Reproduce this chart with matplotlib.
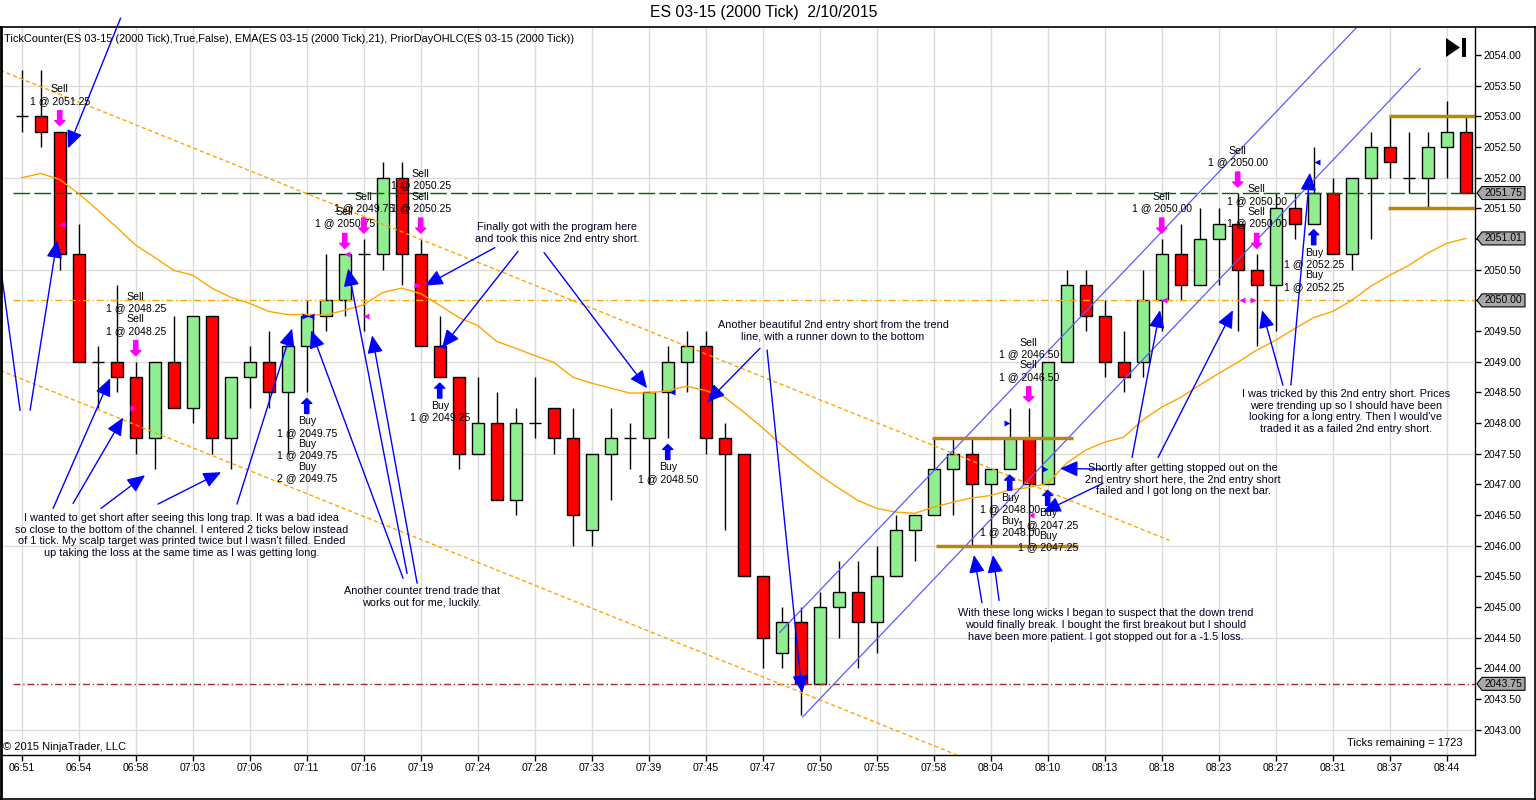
import matplotlib
matplotlib.use("Agg")
import matplotlib.pyplot as plt
import numpy as np
from matplotlib import transforms
from matplotlib.patches import Polygon, Rectangle

plt.rcParams['font.family'] = ['Liberation Sans', 'DejaVu Sans']

# --- bar data (2000 tick bars) ---
opens = [2053.00, 2053.00, 2052.75, 2050.75, 2049.00, 2049.00, 2048.75, 2047.75, 2049.00, 2048.25,
         2049.75, 2047.75, 2048.75, 2049.00, 2048.50, 2049.25, 2049.75, 2050.00, 2050.75, 2050.75,
         2052.00, 2050.75, 2049.25, 2048.75, 2047.50, 2048.00, 2046.75, 2048.00, 2048.25, 2047.75,
         2046.25, 2047.50, 2047.75, 2047.75, 2048.50, 2049.00, 2049.25, 2047.75, 2047.50, 2045.50,
         2044.25, 2044.75, 2043.75, 2045.00, 2045.25, 2044.75, 2045.50, 2046.25, 2046.50, 2047.25,
         2047.50, 2047.00, 2047.25, 2047.75, 2047.00, 2049.00, 2050.25, 2049.75, 2049.00, 2049.00,
         2050.00, 2050.75, 2050.25, 2051.00, 2051.25, 2050.50, 2050.25, 2051.50, 2051.25, 2051.75,
         2050.75, 2052.00, 2052.50, 2052.00, 2052.00, 2052.50, 2052.75]
highs = [2053.75, 2053.75, 2052.75, 2051.25, 2049.25, 2050.25, 2049.00, 2049.00, 2049.75, 2049.75,
         2049.75, 2048.75, 2049.25, 2049.50, 2049.25, 2050.00, 2050.75, 2050.75, 2051.00, 2052.25,
         2052.25, 2051.00, 2049.75, 2048.75, 2048.75, 2048.50, 2048.25, 2048.75, 2048.25, 2048.25,
         2047.50, 2048.25, 2048.00, 2048.50, 2049.25, 2049.50, 2049.50, 2048.00, 2047.50, 2045.50,
         2045.00, 2045.00, 2045.25, 2045.75, 2045.75, 2046.00, 2046.50, 2046.50, 2047.75, 2047.75,
         2047.75, 2047.25, 2048.25, 2048.25, 2049.00, 2050.50, 2050.50, 2050.00, 2049.50, 2050.50,
         2051.00, 2051.25, 2051.50, 2051.50, 2051.75, 2050.75, 2051.75, 2051.75, 2052.50, 2052.00,
         2052.00, 2052.75, 2053.00, 2052.75, 2052.75, 2053.25, 2053.00]
lows = [2052.75, 2052.50, 2050.50, 2049.00, 2048.25, 2048.50, 2047.50, 2047.25, 2048.25, 2048.00,
        2047.50, 2047.25, 2048.25, 2048.25, 2047.50, 2048.50, 2049.50, 2049.75, 2049.50, 2050.50,
        2050.25, 2049.25, 2048.75, 2047.25, 2047.50, 2046.75, 2046.50, 2047.75, 2047.50, 2046.00,
        2046.00, 2046.75, 2047.25, 2047.00, 2047.75, 2048.50, 2047.50, 2046.25, 2045.50, 2044.00,
        2044.00, 2043.25, 2043.75, 2044.50, 2044.00, 2044.25, 2045.50, 2045.75, 2046.50, 2046.50,
        2046.00, 2046.00, 2047.25, 2046.00, 2047.00, 2049.00, 2049.50, 2048.75, 2048.50, 2048.75,
        2049.50, 2050.00, 2050.25, 2050.25, 2049.50, 2049.25, 2049.50, 2051.00, 2051.25, 2050.75,
        2050.50, 2051.00, 2052.00, 2051.75, 2051.50, 2052.00, 2051.75]
closes = [2053.00, 2052.75, 2050.75, 2049.00, 2049.00, 2048.75, 2047.75, 2049.00, 2048.25, 2049.75,
          2047.75, 2048.75, 2049.00, 2048.50, 2049.25, 2049.75, 2050.00, 2050.75, 2050.75, 2052.00,
          2050.75, 2049.25, 2048.75, 2047.50, 2048.00, 2046.75, 2048.00, 2048.00, 2047.75, 2046.50,
          2047.50, 2047.75, 2047.75, 2048.50, 2049.00, 2049.25, 2047.75, 2047.50, 2045.50, 2044.50,
          2044.75, 2043.75, 2045.00, 2045.25, 2044.75, 2045.50, 2046.25, 2046.50, 2047.25, 2047.50,
          2047.00, 2047.25, 2047.75, 2047.00, 2049.00, 2050.25, 2049.75, 2049.00, 2048.75, 2050.00,
          2050.75, 2050.25, 2051.00, 2051.25, 2050.50, 2050.25, 2051.50, 2051.25, 2051.75, 2050.75,
          2052.00, 2052.50, 2052.25, 2052.00, 2052.50, 2052.75, 2051.75]
ema21 = [2052.00, 2052.07, 2051.97, 2051.74, 2051.47, 2051.19, 2050.90, 2050.70, 2050.49, 2050.41,
         2050.20, 2050.05, 2049.95, 2049.82, 2049.77, 2049.77, 2049.76, 2049.84, 2049.93, 2050.13,
         2050.20, 2050.11, 2049.92, 2049.72, 2049.59, 2049.33, 2049.22, 2049.10, 2048.99, 2048.75,
         2048.65, 2048.57, 2048.49, 2048.49, 2048.53, 2048.60, 2048.53, 2048.42, 2048.18, 2047.92,
         2047.64, 2047.39, 2047.15, 2046.94, 2046.74, 2046.61, 2046.55, 2046.53, 2046.63, 2046.71,
         2046.78, 2046.82, 2046.91, 2046.95, 2047.02, 2047.35, 2047.56, 2047.69, 2047.77, 2048.05,
         2048.26, 2048.42, 2048.62, 2048.81, 2048.99, 2049.19, 2049.35, 2049.54, 2049.72, 2049.82,
         2050.00, 2050.23, 2050.41, 2050.57, 2050.77, 2050.93, 2051.01]
time_labels = ['06:51', '06:54', '06:58', '07:03', '07:06', '07:11', '07:16', '07:19', '07:24',
               '07:28', '07:33', '07:39', '07:45', '07:47', '07:50', '07:55', '07:58', '08:04',
               '08:10', '08:13', '08:18', '08:23', '08:27', '08:31', '08:37', '08:44']

# prior day levels and last price
last_price = 2051.75
prior_close = 2050.00
prior_low = 2043.75
ema_last = 2051.01

# executions
sell_bars = [2, 6, 17, 18, 21, 53, 60, 64, 65]
sell_texts = [['Sell', '1 @ 2051.25'],
              ['Sell', '1 @ 2048.25', 'Sell', '1 @ 2048.25'],
              ['Sell', '1 @ 2050.75'],
              ['Sell', '1 @ 2049.75'],
              ['Sell', '1 @ 2050.25', 'Sell', '1 @ 2050.25'],
              ['Sell', '1 @ 2046.50', 'Sell', '1 @ 2046.50'],
              ['Sell', '1 @ 2050.00'],
              ['Sell', '1 @ 2050.00'],
              ['Sell', '1 @ 2050.00', 'Sell', '1 @ 2050.00']]
buy_bars = [15, 22, 34, 52, 54, 68]
buy_texts = [['Buy', '1 @ 2049.75', 'Buy', '1 @ 2049.75', 'Buy', '2 @ 2049.75'],
             ['Buy', '1 @ 2049.25'],
             ['Buy', '1 @ 2048.50'],
             ['Buy', '1 @ 2048.00', 'Buy', '1 @ 2048.00'],
             ['Buy', '1 @ 2047.25', 'Buy', '1 @ 2047.25'],
             ['Buy', '1 @ 2052.25', 'Buy', '1 @ 2052.25']]
fill_bars = [2.1, 5.85, 17.1, 18.1, 20.8, 14.9, 15.2, 22.1, 34.2, 51.85, 53.1, 53.85, 60.1, 64.2, 64.8, 68.15]
fill_prices = [2051.25, 2048.25, 2050.75, 2049.75, 2050.25, 2049.75, 2049.75, 2049.25, 2048.50,
               2048.00, 2046.50, 2047.25, 2050.00, 2050.00, 2050.00, 2052.25]
fill_sides = ['S', 'S', 'S', 'S', 'S', 'B', 'B', 'B', 'B', 'B', 'S', 'B', 'S', 'S', 'S', 'B']
fill_marks = ['<', '>', '<', '<', '>', '>', '<', '<', '<', '>', '<', '>', '<', '<', '>', '<']

# drawn trend channels (bar, price)
down_upper = [(-1.14, 2053.75), (60.4, 2046.09)]
down_lower = [(-1.14, 2048.86), (53.0, 2042.12)]
up_upper = [(39.9, 2044.59), (70.6, 2054.56)]
up_lower = [(41.1, 2043.21), (73.6, 2053.78)]
range_lines = [((47.9, 55.33), 2047.75), ((48.12, 55.6), 2046.00),
               ((71.96, 76.6), 2053.00), ((71.9, 76.6), 2051.50)]

# notes and their arrows (bar, price)
notes = [
    (8.4, 2046.17, "I wanted to get short after seeing this long trap. It was a bad idea\n"
                   "so close to the bottom of the channel. I entered 2 ticks below instead\n"
                   "of 1 tick. My scalp target was printed twice but I wasn't filled. Ended\n"
                   "up taking the loss at the same time as I was getting long."),
    (21.07, 2045.17, "Another counter trend trade that\nworks out for me, luckily."),
    (28.17, 2051.10, "Finally got with the program here\nand took this nice 2nd entry short."),
    (42.7, 2049.51, "Another beautiful 2nd entry short from the trend\nline, with a runner down to the bottom"),
    (61.12, 2047.08, "Shortly after getting stopped out on the\n2nd entry short here, the 2nd entry short\n"
                     "failed and I got long on the next bar."),
    (57.07, 2044.71, "With these long wicks I began to suspect that the down trend\n"
                     "would finally break. I bought the first breakout but I should\n"
                     "have been more patient. I got stopped out for a -1.5 loss."),
    (69.7, 2048.19, "I was tricked by this 2nd entry short. Prices\nwere trending up so I should have been\n"
                    "looking for a long entry. Then I would've\ntraded it as a failed 2nd entry short."),
]
arrow_tails = [(1.65, 2046.61), (2.70, 2046.69), (4.17, 2046.61), (7.17, 2046.68), (11.33, 2046.68),
               (20.07, 2045.47), (20.28, 2045.55), (20.81, 2045.39),
               (0.44, 2048.21), (5.2, 2054.6),
               (24.9, 2050.86), (26.12, 2050.80), (27.49, 2050.78),
               (38.86, 2049.22), (39.23, 2049.19),
               (56.91, 2047.25), (56.91, 2047.02), (58.44, 2047.44), (59.81, 2047.44),
               (50.54, 2045.07), (51.44, 2045.11),
               (66.38, 2048.62), (66.8, 2048.62)]
arrow_tips = [(4.65, 2048.73), (5.33, 2048.09), (6.49, 2047.15), (10.49, 2047.20), (14.23, 2049.54),
              (15.23, 2049.51), (17.18, 2050.52), (18.44, 2049.43),
              (1.86, 2050.98), (2.44, 2052.48),
              (21.23, 2050.24), (22.12, 2049.23), (32.91, 2048.57),
              (36.07, 2048.34), (41.07, 2043.60),
              (54.65, 2047.26), (53.75, 2046.55), (59.91, 2049.84), (63.75, 2049.84),
              (50.12, 2045.85), (51.12, 2045.85),
              (65.28, 2049.84), (67.8, 2052.08)]
plain_line = [(-1.14, 2050.60), (-0.09, 2048.21)]

W, H = 1536, 800
fig = plt.figure(figsize=(W / 100, H / 100), dpi=100)
ax = fig.add_axes([2 / W, 45 / H, 1473 / W, 727 / H])
ax.set_xlim(-1.04, 76.49)
ax.set_ylim(2042.59, 2054.44)

n = len(opens)
x = np.arange(n)
o = np.array(opens)
c = np.array(closes)

# grid
for gx in range(0, 76, 3):
    ax.axvline(gx, color='#dcdcdc', lw=1, zorder=0)
for gy in np.arange(2043.0, 2054.5, 1.5):
    ax.axhline(gy, color='#dcdcdc', lw=1, zorder=0)

# candles
ax.vlines(x, lows, highs, color='black', lw=1, zorder=3)
body_colors = ['#90ee90' if cc > oo else '#ff0000' for oo, cc in zip(o, c)]
ax.bar(x, np.abs(c - o), bottom=np.minimum(o, c), width=0.65, color=body_colors,
       edgecolor='black', linewidth=1, zorder=4)

# price level lines
x0 = -0.46
ax.plot([x0, 76.49], [last_price] * 2, color='#006400', lw=1, dashes=(12, 3), zorder=5)
ax.plot([x0, 76.49], [prior_close] * 2, color='#ffa500', lw=1, dashes=(5, 2, 1, 2), zorder=5)
ax.plot([x0, 76.49], [prior_low] * 2, color='#a52a2a', lw=1, dashes=(5, 2, 1, 2), zorder=5)

# EMA
ax.plot(x, ema21, color='#ffa500', lw=1, zorder=6)

# channels
for seg in (down_upper, down_lower):
    ax.plot(*zip(*seg), color='#ffa500', lw=1, dashes=(3, 2), zorder=6)
for seg in (up_upper, up_lower):
    ax.plot(*zip(*seg), color='#5a5aff', lw=0.9, zorder=6)
for (xa, xb), lvl in range_lines:
    ax.plot([xa, xb], [lvl, lvl], color='#b8860b', lw=2.5, solid_capstyle='butt', zorder=6)

# note arrows
ax.plot(*zip(*plain_line), color='#0000ff', lw=1, zorder=7)
for tail, tip in zip(arrow_tails, arrow_tips):
    ax.annotate('', xy=tip, xytext=tail, zorder=7,
                arrowprops=dict(arrowstyle='-|>,head_length=0.9,head_width=0.4', mutation_scale=12,
                                color='#0000ff', lw=1, shrinkA=0, shrinkB=0))
for bx, by, txt in notes:
    ax.text(bx, by, txt, ha='center', va='center', fontsize=7.8, linespacing=1.2,
            color='#000020', zorder=8)

# execution arrows and labels
def off(dy):
    return transforms.offset_copy(ax.transData, fig=fig, x=0, y=dy, units='dots')

arrow_style = 'simple,head_length=0.45,head_width=0.9,tail_width=0.38'
for b, lines in zip(sell_bars, sell_texts):
    ax.annotate('', xy=(b, highs[b]), xycoords=off(6), xytext=(b, highs[b]), textcoords=off(21),
                arrowprops=dict(arrowstyle=arrow_style, mutation_scale=8, fc='#ff00ff', ec='#ff00ff',
                                shrinkA=0, shrinkB=0), zorder=9)
    ax.text(b, highs[b], '\n'.join(lines), transform=off(26), ha='center', va='bottom',
            fontsize=7.6, linespacing=1.17, zorder=9)
for b, lines in zip(buy_bars, buy_texts):
    ax.annotate('', xy=(b, lows[b]), xycoords=off(-6), xytext=(b, lows[b]), textcoords=off(-21),
                arrowprops=dict(arrowstyle=arrow_style, mutation_scale=8, fc='#0000ff', ec='#0000ff',
                                shrinkA=0, shrinkB=0), zorder=9)
    ax.text(b, lows[b], '\n'.join(lines), transform=off(-24), ha='center', va='top',
            fontsize=7.6, linespacing=1.17, zorder=9)
for fb, fp, side, mk in zip(fill_bars, fill_prices, fill_sides, fill_marks):
    ax.plot(fb, fp, marker=mk, ms=5, color='#ff00ff' if side == 'S' else '#0000ff',
            mec='none', zorder=9)

# axes styling
for s in ('top', 'left'):
    ax.spines[s].set_visible(False)
ax.spines['right'].set_linewidth(1)
ax.spines['bottom'].set_linewidth(1)
ax.yaxis.tick_right()
yt = np.arange(2043.0, 2054.01, 0.5)
ax.set_yticks(yt)
ax.set_yticklabels(['' if v in (2050.0, 2051.0) else f'{v:.2f}' for v in yt])
ax.set_xticks(np.arange(0, 76, 3))
ax.set_xticklabels(time_labels)
ax.tick_params(axis='both', direction='out', length=4, width=1, labelsize=7.6, pad=2)

# price flags on the right axis
fig.canvas.draw()
for p in (last_price, ema_last, prior_close, prior_low):
    yd = ax.transData.transform((0, p))[1]
    flag = Polygon([(1477, yd), (1482, yd + 6.5), (1525, yd + 6.5), (1525, yd - 6.5), (1482, yd - 6.5)],
                   closed=True, fc='#a8a8a8', ec='black', lw=0.8,
                   transform=transforms.IdentityTransform(), zorder=10)
    fig.add_artist(flag)
    fig.text(1503.5, yd, f'{p:.2f}', transform=transforms.IdentityTransform(), ha='center',
             va='center', fontsize=7.6, zorder=11)

# "go to end" icon
fig.add_artist(Polygon([(1446, H - 38), (1446, H - 57), (1460, H - 47.5)], closed=True, fc='black',
                       ec='none', transform=transforms.IdentityTransform()))
fig.add_artist(Rectangle((1462, H - 57), 4, 19, fc='black', ec='none',
                         transform=transforms.IdentityTransform()))

# frame and texts
fig.add_artist(plt.Line2D([0, 1], [1 - 27 / H, 1 - 27 / H], color='black', lw=1.2))
fig.add_artist(plt.Line2D([0.5 / W, 0.5 / W], [0, 1 - 27 / H], color='black', lw=2))
fig.add_artist(plt.Line2D([1535 / W, 1535 / W], [0, 1 - 27 / H], color='black', lw=1.2))
fig.add_artist(plt.Line2D([0, 1], [1 / H, 1 / H], color='black', lw=1.2))

fig.text(764 / W, 1 - 13 / H, 'ES 03-15 (2000 Tick)  2/10/2015', ha='center', va='center', fontsize=11.3)
fig.text(4 / W, 1 - 39 / H,
         'TickCounter(ES 03-15 (2000 Tick),True,False), EMA(ES 03-15 (2000 Tick),21), '
         'PriorDayOHLC(ES 03-15 (2000 Tick))', ha='left', va='center', fontsize=7.95)
fig.text(3 / W, 1 - 747 / H, '\u00a9 2015 NinjaTrader, LLC', ha='left', va='center', fontsize=8.0)
fig.text(1463 / W, 1 - 743 / H, 'Ticks remaining = 1723', ha='right', va='center', fontsize=8.0)

fig.savefig('out.png', dpi=100)
